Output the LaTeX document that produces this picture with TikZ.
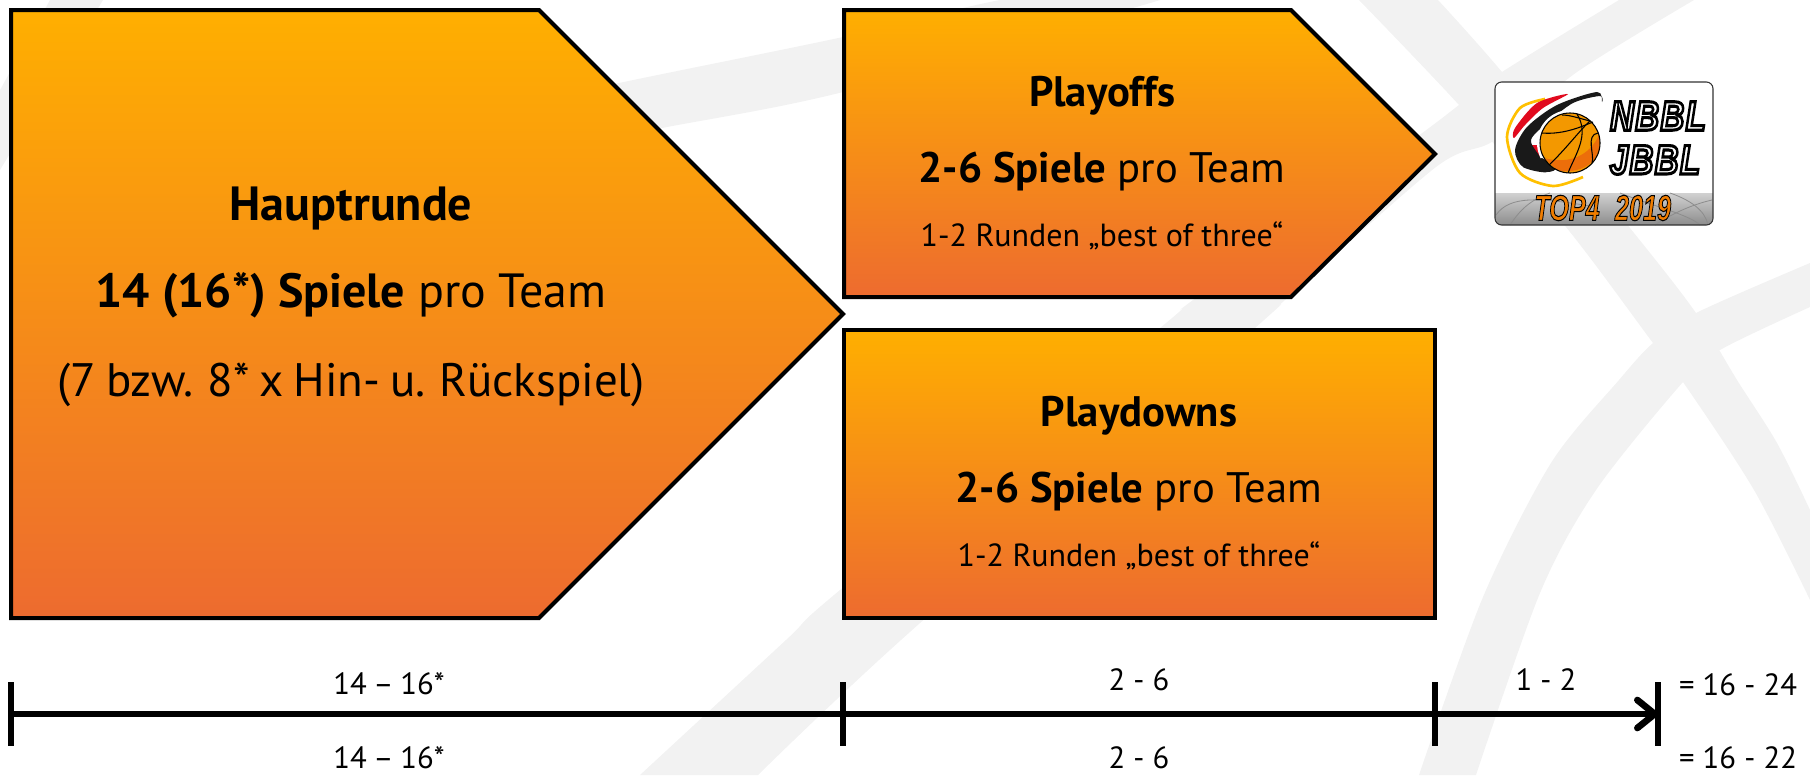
\documentclass[tikz,border=0pt]{standalone}
\usepackage{fontspec}
\setmainfont{PT Sans}
\font\logoname="Liberation Sans/BI:embolden=7.5;letterspace=4" at 31pt
\font\logoyear="Liberation Sans/BI:embolden=3" at 27pt
\newcommand{\logofill}[1]{\special{pdf:code 0 0 0 RG #1 rg}}
\usepackage{graphicx}
\usetikzlibrary{arrows.meta}
\definecolor{bandgrey}{RGB}{242,242,242}
\definecolor{gradtop}{RGB}{255,175,0}
\definecolor{gradbot}{RGB}{237,107,47}
\definecolor{logoyellow}{RGB}{255,192,0}
\definecolor{logored}{RGB}{225,10,30}
\definecolor{ballorange}{RGB}{243,152,0}
\definecolor{balldark}{RGB}{236,110,10}
\tikzset{
  band/.style={fill=bandgrey,draw=none},
  phasebox/.style={draw=black,line width=3pt,miter limit=10,top color=gradtop,bottom color=gradbot},
  bigtext/.style={font=\fontsize{36}{42}\selectfont,text=black,inner sep=0pt},
  midtext/.style={font=\fontsize{32}{38}\selectfont,text=black,inner sep=0pt},
  smalltext/.style={font=\fontsize{24}{28}\selectfont,text=black,inner sep=0pt},
  axistext/.style={font=\fontsize{23}{26}\selectfont,text=black,inner sep=0pt},
  tickline/.style={line width=4.3pt},
  axisline/.style={line width=5pt,-{Straight Barb[round,length=13pt,width=21pt,line width=5pt]}},
  seam/.style={draw=black,line width=0.8pt},
  netline/.style={draw=black!45,line width=0.6pt},
  logotext/.style={inner sep=0pt},
}
\begin{document}
\begin{tikzpicture}[x=0.75pt,y=0.75pt,yscale=-1,xscale=1]
\path [use as bounding box] (0,0) rectangle (1810,775);

%Background: bands of the ball
\path [band] (50,0) -- (103,0) -- (0,170) -- (0,90) -- cycle ;
\path [band] plot [smooth] coordinates {(500,110) (619,83) (843,37) (963,8) (1000,0)} -- (1160,0) -- plot [smooth] coordinates {(1160,0) (1133,8) (843,92) (662,128) (550,150)} -- cycle ;
\path [band] plot [smooth] coordinates {(1619,0) (1502,72) (1459,105) (1410,142) (1193,300) (1160,328) (840,590) (786,640) (640,775)} -- plot [smooth] coordinates {(758,775) (901,640) (1255,328) (1285,300) (1436,167) (1495,140) (1577,72) (1694,0)} -- cycle ;
\path [band] plot [smooth] coordinates {(1359,0) (1459,105) (1566,227) (1653,343) (1683,382) (1754,490) (1810,600)} -- plot [smooth] coordinates {(1810,510) (1777,443) (1737,380) (1696,313) (1634,233) (1502,72) (1438,0)} -- cycle ;
\path [band] plot [smooth] coordinates {(1810,263) (1696,313) (1653,343) (1619,380) (1551,463) (1483,597) (1419,775)} -- plot [smooth] coordinates {(1476,775) (1540,593) (1596,490) (1683,382) (1720,350) (1810,307)} -- cycle ;

%Shape: Pentagon
\draw [phasebox] (11,10) -- (539,10) -- (843,314) -- (539,618) -- (11,618) -- cycle ;
%Shape: Pentagon
\draw [phasebox] (844,10) -- (1291,10) -- (1435,154) -- (1291,297) -- (844,297) -- cycle ;
%Shape: Rectangle
\draw [phasebox] (844,330) -- (1435,330) -- (1435,618) -- (844,618) -- cycle ;

% Text Node
\draw (351,208) node (hauptTitle) [bigtext] {\textbf{Hauptrunde}};
\draw (351,295) node (hauptGames) [bigtext] {\textbf{14 (16*) Spiele} pro Team};
\draw (351,385) node (hauptNote) [bigtext] {\fontsize{35.2}{42}\selectfont\spaceskip=7.5pt (7 bzw. 8* x Hin- u. Rückspiel)};
% Text Node
\draw (1102,96) node (playoffTitle) [midtext] {\textbf{Playoffs}};
\draw (1102,172) node (playoffGames) [midtext] {\textbf{2-6 Spiele} pro Team};
\draw (1102,236) node (playoffNote) [smalltext] {1-2 Runden „best of three“};
% Text Node
\draw (1139,416) node (playdownTitle) [midtext] {\textbf{Playdowns}};
\draw (1139,492) node (playdownGames) [midtext] {\textbf{2-6 Spiele} pro Team};
\draw (1139,556) node (playdownNote) [smalltext] {1-2 Runden „best of three“};

%Axis
\coordinate (tickA) at (11,714);
\coordinate (tickB) at (843,714);
\coordinate (tickC) at (1435,714);
\coordinate (tickD) at (1658,714);
\draw [axisline] (tickA) -- (tickD);
\draw [tickline] (tickA) ++(0,-32) -- ++(0,64);
\draw [tickline] (tickB) ++(0,-32) -- ++(0,64);
\draw [tickline] (tickC) ++(0,-32) -- ++(0,64);
\draw [tickline] (tickD) ++(0,-32) -- ++(0,64);

% Text Node
\draw (389,684) node (mainUpper) [axistext] {\spaceskip=5pt 14 – 16*};
\draw (389,758) node (mainLower) [axistext] {\spaceskip=5pt 14 – 16*};
\draw (1139,680) node (playUpper) [axistext] {2 - 6};
\draw (1139,758) node (playLower) [axistext] {2 - 6};
\draw (1546,680) node (finalUpper) [axistext] {1 - 2};
\draw (1738,685) node (sumUpper) [axistext] {= 16 - 24};
\draw (1738,758) node (sumLower) [axistext] {= 16 - 22};

%Logo
\begin{scope}
\clip [rounded corners=5pt] (1495,82) rectangle (1713,225);
\fill [white] (1495,82) rectangle (1713,225);
\shade [top color=black!18,bottom color=black!45] (1495,193) rectangle (1713,225);
\draw [netline] (1496,215) .. controls (1510,195) and (1540,198) .. (1590,206);
\draw [netline] (1510,225) .. controls (1520,210) and (1530,200) .. (1550,193);
\draw [netline] (1620,193) .. controls (1650,205) and (1690,215) .. (1700,225);
\draw [netline] (1712,200) .. controls (1690,205) and (1670,215) .. (1655,225);
\draw [netline] (1670,193) .. controls (1690,200) and (1705,210) .. (1708,225);
\end{scope}
\draw [draw=black!80,line width=0.8pt,rounded corners=5pt] (1495,82) rectangle (1713,225);

\draw [draw=logoyellow,line width=2pt] plot [smooth] coordinates {(1545,99) (1520,108) (1507,137) (1520,173) (1553,186) (1583,177)};
\fill [logored] plot [smooth cycle] coordinates {(1568,94) (1537,103) (1515,128) (1514,138) (1525,125) (1543,108)};
\fill [logored] (1527,145) -- (1540,145) -- (1542,157) -- (1530,155) -- cycle ;
\fill [black!90] plot [smooth cycle] coordinates {(1602,102) (1597,92) (1557,105) (1527,127) (1515,150) (1523,167) (1547,172) (1540,157) (1531,140) (1547,123) (1573,103) (1600,96)};
\fill [white] (1570,143) circle [radius=33];
\fill [black!90] plot [smooth] coordinates {(1523,167) (1547,172) (1556,168) (1542,158)} -- cycle;
\fill [ballorange] (1570,143) circle [radius=30];
\fill [balldark] (1544,158) .. controls (1570,165) and (1590,155) .. (1599,135) .. controls (1605,165) and (1575,175) .. (1557,170) -- cycle ;
\draw [seam] (1570,143) circle [radius=30];
\draw [seam] (1542,133) .. controls (1565,135) and (1585,125) .. (1593,122);
\draw [seam] (1549,165) .. controls (1565,150) and (1580,130) .. (1590,121);
\draw [seam] (1577,114) .. controls (1590,135) and (1575,155) .. (1568,173);
\draw [seam] (1598,133) .. controls (1585,135) and (1595,155) .. (1592,163);
\draw [seam] (1562,115) .. controls (1570,115) and (1578,118) .. (1590,121);

\draw (1658,116) node (logoUpper) [logotext] {\scalebox{.8}[1]{\logofill{1 1 1}\logoname NBBL}};
\draw (1655,160) node (logoLower) [logotext] {\scalebox{.8}[1]{\logofill{1 1 1}\logoname JBBL}};
\draw (1567,208) node (logoTop) [logotext] {\scalebox{.7}[1]{\logofill{0.94 0.49 0}\logoyear TOP4}};
\draw (1643,208) node (logoYear) [logotext] {\scalebox{.7}[1]{\logofill{0.94 0.49 0}\logoyear 2019}};

\end{tikzpicture}
\end{document}
